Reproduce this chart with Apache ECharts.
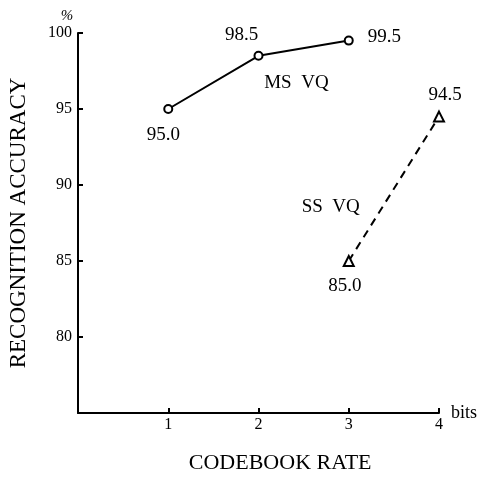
<!DOCTYPE html>
<html>
<head>
<meta charset="utf-8">
<script src="https://cdn.jsdelivr.net/npm/echarts@6/dist/echarts.min.js"></script>
<style>
html,body{margin:0;padding:0;background:#fff;}
#main{width:484px;height:478px;}
</style>
</head>
<body>
<div id="main"></div>
<script>
// Data
const xTicks = [1, 2, 3, 4];
const yTicks = [80, 85, 90, 95, 100];
const msName = 'MS VQ';
const msX = [1, 2, 3];
const msY = [95.0, 98.5, 99.5];
const ssName = 'SS VQ';
const ssX = [3, 4];
const ssY = [85.0, 94.5];
const xTitle = 'CODEBOOK RATE';
const yTitle = 'RECOGNITION ACCURACY';
const xUnit = 'bits';
const yUnit = '%';

const FONT = "'Liberation Serif', 'DejaVu Serif', serif";
const chart = echarts.init(document.getElementById('main'), null, {renderer: 'canvas'});

const msLabelCfg = [
  {position: 'bottom', distance: 12, offset: [-5, 0]},
  {position: 'top', distance: 6, offset: [-17, 0]},
  {position: 'right', distance: 14, offset: [0, -4]}
];
const ssLabelCfg = [
  {position: 'bottom', distance: 10, offset: [-4, 0]},
  {position: 'top', distance: 6, offset: [6, 0]}
];

function build(xs, ys, cfg) {
  return xs.map((x, i) => ({
    value: [x, ys[i]],
    label: Object.assign({show: true}, cfg[i])
  }));
}

const labelStyle = {color: '#000', fontFamily: FONT, fontSize: 19,
  formatter: p => p.value[1].toFixed(1)};

chart.setOption({
  animation: false,
  backgroundColor: '#fff',
  grid: {left: 78, right: 45, top: 33, bottom: 65, containLabel: false, outerBoundsMode: 'none'},
  xAxis: {
    type: 'value', min: 0, max: 4, interval: 1,
    name: xUnit, nameLocation: 'end', nameGap: 12,
    nameTextStyle: {color: '#000', fontFamily: FONT, fontSize: 18, verticalAlign: 'middle', padding: [0, 0, 6, 0]},
    axisLine: {show: true, lineStyle: {color: '#000', width: 2}},
    axisTick: {show: true, inside: true, length: 5, lineStyle: {color: '#000', width: 2}},
    axisLabel: {color: '#000', fontFamily: FONT, fontSize: 16, margin: 4, showMinLabel: false,
      formatter: v => xTicks.includes(v) ? String(v) : ''},
    splitLine: {show: false}
  },
  yAxis: {
    type: 'value', min: 75, max: 100, interval: 5,
    name: yTitle, nameLocation: 'middle', nameGap: 48, nameRotate: 90,
    nameTextStyle: {color: '#000', fontFamily: FONT, fontSize: 23},
    axisLine: {show: true, lineStyle: {color: '#000', width: 2}},
    axisTick: {show: true, inside: true, length: 5, lineStyle: {color: '#000', width: 2}},
    axisLabel: {color: '#000', fontFamily: FONT, fontSize: 16, margin: 6, showMinLabel: false,
      formatter: v => yTicks.includes(v) ? String(v) : ''},
    splitLine: {show: false}
  },
  series: [
    {
      name: msName, type: 'line',
      data: build(msX, msY, msLabelCfg),
      symbol: 'circle', symbolSize: 8,
      lineStyle: {color: '#000', width: 2},
      itemStyle: {color: '#fff', borderColor: '#000', borderWidth: 2},
      label: labelStyle
    },
    {
      name: ssName, type: 'line',
      data: build(ssX, ssY, ssLabelCfg),
      symbol: 'triangle', symbolSize: 10,
      lineStyle: {color: '#000', width: 2, type: [8, 6]},
      itemStyle: {color: '#fff', borderColor: '#000', borderWidth: 2},
      label: labelStyle
    }
  ]
});

const msPos = chart.convertToPixel({gridIndex: 0}, [2.42, 96.7]);
const ssPos = chart.convertToPixel({gridIndex: 0}, [2.8, 88.55]);
const origin = chart.convertToPixel({gridIndex: 0}, [0, 100]);
const axisMid = chart.convertToPixel({gridIndex: 0}, [2.24, 75]);

chart.setOption({
  graphic: [
    {type: 'text', x: msPos[0], y: msPos[1], style: {text: 'MS  VQ', fill: '#000', font: '19px ' + FONT, align: 'center', verticalAlign: 'middle'}},
    {type: 'text', x: ssPos[0], y: ssPos[1], style: {text: 'SS  VQ', fill: '#000', font: '19px ' + FONT, align: 'center', verticalAlign: 'middle'}},
    {type: 'text', x: origin[0] - 11, y: origin[1] - 17, style: {text: yUnit, fill: '#000', font: 'italic 15px ' + FONT, align: 'center', verticalAlign: 'middle'}},
    {type: 'text', x: axisMid[0], y: axisMid[1] + 50, style: {text: xTitle, fill: '#000', font: '22px ' + FONT, align: 'center', verticalAlign: 'middle'}}
  ]
});
</script>
</body>
</html>
